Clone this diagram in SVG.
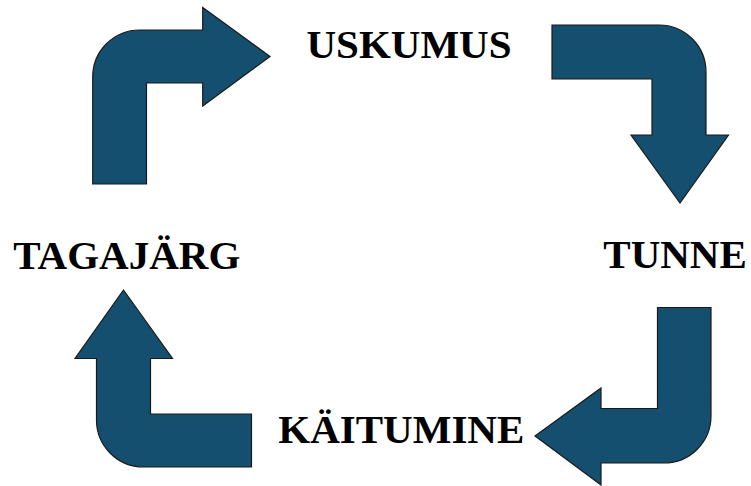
<svg xmlns="http://www.w3.org/2000/svg" width="751" height="486" viewBox="0 0 751 486">
<style>
.arrow{fill:#154f70;stroke:#1a1a1a;stroke-width:1.2;stroke-linejoin:miter}
.label{font-family:"Liberation Serif","Times New Roman",serif;font-weight:bold;font-size:41px;fill:#000}
</style>
<rect width="751" height="486" fill="#fff"/>
<g id="connectors">
<path id="arrow-top-left" class="arrow" d="M92.7,184 L92.7,77 A47,47 0 0 1 139.7,30 L202.7,30 L202.7,7.5 L270,56.5 L202.7,106 L202.7,83 L146.5,83 L146.5,184 Z"/>
<path id="arrow-top-right" class="arrow" d="M552,25 L659,25 A47,47 0 0 1 706,72 L706,135 L728.5,135 L680,203 L631,135 L652,135 L652,79 L552,79 Z"/>
<path id="arrow-bottom-right" class="arrow" d="M657.5,307.5 L711,307.5 L711,416 A47,47 0 0 1 664,463 L601,463 L601,485 L535,436 L601,388 L601,408.5 L657.5,408.5 Z"/>
<path id="arrow-bottom-left" class="arrow" d="M123.5,290 L172.5,358.5 L150.5,358.5 L150.5,414 L251.5,414 L251.5,467 L143.5,467 A47,47 0 0 1 96.5,420 L96.5,358.5 L75,358.5 Z"/>
</g>
<g id="node-uskumus"><text class="label" x="306.5" y="58.3">USKUMUS</text></g>
<g id="node-tunne"><text class="label" x="603.3" y="268.3">TUNNE</text></g>
<g id="node-kaitumine"><text class="label" x="278.3" y="443.3">KÄITUMINE</text></g>
<g id="node-tagajarg"><text class="label" x="13.3" y="269.3">TAGAJÄRG</text></g>
</svg>
